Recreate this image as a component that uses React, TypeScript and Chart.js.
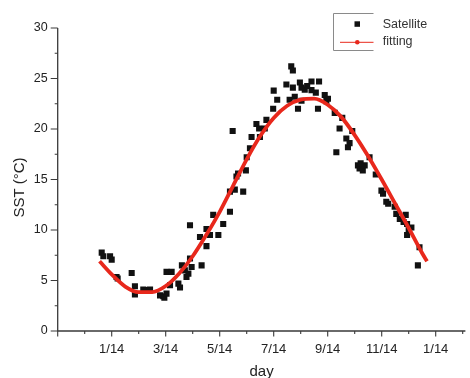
import React, { useEffect, useRef } from "react";
import { Chart, registerables } from "chart.js";

Chart.register(...registerables);

// x unit: months after 1/14 (0 = 1/14)
const xTickValues = [0, 2, 4, 6, 8, 10, 12];
const xTickLabels = ["1/14", "3/14", "5/14", "7/14", "9/14", "11/14", "1/14"];
const yTickValues = [0, 5, 10, 15, 20, 25, 30];

const satX = [-0.37, -0.31, -0.06, 0.0, 0.18, 0.22, 0.74, 0.86, 0.86, 1.17, 1.3, 1.42, 1.79, 1.91, 1.95, 2.03, 2.03, 2.22, 2.16, 2.47, 2.53, 2.6, 2.71, 2.77, 2.84, 2.9, 2.9, 2.96, 3.33, 3.27, 3.51, 3.51, 3.64, 3.76, 3.95, 4.13, 4.38, 4.38, 4.48, 4.56, 4.62, 4.68, 4.87, 4.97, 5.0, 5.12, 5.18, 5.36, 5.46, 5.49, 5.67, 5.73, 5.98, 6.0, 6.13, 6.47, 6.59, 6.65, 6.71, 6.71, 6.78, 6.9, 6.97, 7.03, 7.03, 7.15, 7.24, 7.4, 7.4, 7.56, 7.64, 7.68, 7.89, 7.95, 8.01, 8.26, 8.32, 8.44, 8.54, 8.69, 8.75, 8.81, 8.91, 9.12, 9.18, 9.22, 9.3, 9.37, 9.55, 9.78, 9.99, 10.05, 10.17, 10.24, 10.48, 10.54, 10.67, 10.81, 10.89, 10.94, 11.0, 11.1, 10.94, 11.4, 11.34];
const satY = [7.76, 7.4, 7.4, 7.07, 5.35, 5.2, 5.75, 4.43, 3.63, 4.1, 4.05, 4.1, 3.53, 3.44, 3.3, 3.7, 5.85, 5.85, 4.53, 4.69, 4.3, 6.5, 6.0, 5.35, 5.68, 10.47, 7.17, 6.34, 6.5, 9.3, 8.4, 10.1, 9.5, 11.5, 9.5, 10.6, 11.8, 13.8, 19.8, 14.0, 15.3, 15.6, 13.8, 15.9, 17.2, 18.1, 19.2, 20.5, 20.05, 19.2, 20.05, 20.9, 22.0, 23.8, 22.9, 24.4, 22.9, 26.2, 25.8, 24.1, 23.2, 22.0, 24.6, 24.1, 22.8, 23.9, 24.25, 24.7, 23.85, 23.6, 22.0, 24.7, 23.36, 22.76, 23.0, 21.6, 17.7, 20.05, 21.1, 19.06, 18.2, 18.6, 19.8, 16.4, 16.1, 16.6, 15.9, 16.4, 17.2, 15.5, 13.9, 13.6, 12.8, 12.6, 12.3, 11.6, 11.1, 10.8, 11.5, 10.6, 10.0, 10.24, 9.5, 8.3, 6.5];

const fitX = [-0.45, 0, 0.5, 1, 1.5, 2, 2.5, 3, 3.5, 4, 4.5, 5, 5.5, 6, 6.5, 7, 7.5, 8, 8.5, 9, 9.5, 10, 10.5, 11, 11.5, 11.68];
const fitY = [6.9, 5.6, 4.4, 3.85, 3.85, 4.45, 5.7, 7.4, 9.5, 11.8, 14.4, 17.0, 19.3, 21.1, 22.3, 22.9, 23.0, 22.4, 21.2, 19.4, 17.3, 15.0, 12.6, 10.2, 7.7, 6.9];

const AXIS = "#3a3a3a";
const TEXT = "#222";
const RED = "rgb(232,40,28)";
const FONT = "'Liberation Sans', Arial, 'Noto Sans CJK SC', sans-serif";

const decoPlugin = {
  id: "deco",
  afterDraw(chart: any) {
    const ctx = chart.ctx;
    const { left, right, top, bottom } = chart.chartArea;
    const xs = chart.scales.x;
    const ys = chart.scales.y;
    ctx.save();
    ctx.strokeStyle = AXIS;
    ctx.lineWidth = 1.3;
    // axes lines
    ctx.beginPath();
    ctx.moveTo(left, top);
    ctx.lineTo(left, bottom);
    ctx.moveTo(left, bottom);
    ctx.lineTo(right, bottom);
    ctx.stroke();
    // x ticks
    ctx.lineWidth = 1.1;
    ctx.beginPath();
    for (let v = -2; v <= 13; v++) {
      const px = xs.getPixelForValue(v);
      const len = v % 2 === 0 ? 5.5 : 3;
      ctx.moveTo(px, bottom);
      ctx.lineTo(px, bottom + len);
    }
    // y ticks
    for (let v = 0; v <= 30; v += 2.5) {
      const py = ys.getPixelForValue(v);
      const len = v % 5 === 0 ? 7 : 3;
      ctx.moveTo(left, py);
      ctx.lineTo(left - len, py);
    }
    ctx.stroke();

    // y title
    ctx.fillStyle = TEXT;
    ctx.font = "15px " + FONT;
    ctx.textAlign = "center";
    ctx.textBaseline = "middle";
    ctx.translate(20, (top + bottom) / 2 + 8);
    ctx.rotate(-Math.PI / 2);
    ctx.fillText("SST (°C)", 0, 0);
    ctx.restore();

    // legend
    ctx.save();
    ctx.strokeStyle = "#8a8a8a";
    ctx.lineWidth = 1;
    ctx.beginPath();
    ctx.moveTo(373.5, 13.5);
    ctx.lineTo(333.5, 13.5);
    ctx.lineTo(333.5, 50.5);
    ctx.lineTo(373.5, 50.5);
    ctx.stroke();
    ctx.fillStyle = "#111";
    ctx.fillRect(354.5, 21.3, 5.5, 5.5);
    ctx.strokeStyle = RED;
    ctx.lineWidth = 1;
    ctx.beginPath();
    ctx.moveTo(340, 42.3);
    ctx.lineTo(373.5, 42.3);
    ctx.stroke();
    ctx.fillStyle = RED;
    ctx.beginPath();
    ctx.arc(357.3, 42.3, 2.3, 0, Math.PI * 2);
    ctx.fill();
    ctx.fillStyle = "#333";
    ctx.font = "12.5px " + FONT;
    ctx.textAlign = "left";
    ctx.textBaseline = "middle";
    ctx.fillText("Satellite", 382.7, 24.3);
    ctx.fillText("fitting", 382.7, 41.8);
    ctx.restore();
  },
};

export default function App() {
  const ref = useRef<HTMLCanvasElement | null>(null);
  useEffect(() => {
    if (!ref.current) return;
    const satData = satX.map((x, i) => ({ x, y: satY[i] }));
    const fitData = fitX.map((x, i) => ({ x, y: fitY[i] }));
    const chart = new Chart(ref.current, {
      type: "scatter",
      data: {
        datasets: [
          {
            label: "fitting",
            data: fitData,
            showLine: true,
            borderColor: RED,
            backgroundColor: RED,
            borderWidth: 3.8,
            pointRadius: 0,
            tension: 0.4,
            cubicInterpolationMode: "monotone",
          } as any,
          {
            label: "Satellite",
            data: satData,
            pointStyle: "rect",
            pointRadius: 4.3,
            pointBorderWidth: 0,
            backgroundColor: "#111",
            borderColor: "#111",
            showLine: false,
          } as any,
        ],
      },
      options: {
        animation: false,
        responsive: true,
        maintainAspectRatio: false,
        layout: { padding: { left: 0, top: 28, right: 4.6, bottom: 0 } },
        plugins: {
          legend: { display: false },
          tooltip: { enabled: false },
        },
        scales: {
          x: {
            type: "linear",
            min: -2,
            max: 13.1,
            grid: { display: false, drawTicks: false },
            border: { display: false },
            afterBuildTicks: (scale: any) => {
              scale.ticks = xTickValues.map((v) => ({ value: v }));
            },
            afterFit: (scale: any) => {
              scale.height = 47;
            },
            ticks: {
              autoSkip: false,
              maxRotation: 0,
              padding: 11,
              color: TEXT,
              font: { family: FONT, size: 13 },
              callback: (v: any) => {
                const i = xTickValues.indexOf(Number(v));
                return i >= 0 ? xTickLabels[i] : "";
              },
            },
            title: {
              display: true,
              text: "day",
              color: TEXT,
              font: { family: FONT, size: 15, lineHeight: 1 },
              padding: { top: 0, bottom: -1 },
            },
          },
          y: {
            type: "linear",
            min: 0,
            max: 30,
            grid: { display: false, drawTicks: false },
            border: { display: false },
            afterBuildTicks: (scale: any) => {
              scale.ticks = yTickValues.map((v) => ({ value: v }));
            },
            afterFit: (scale: any) => {
              scale.width = 57.7;
            },
            ticks: {
              padding: 10,
              color: TEXT,
              font: { family: FONT, size: 12.5 },
            },
          },
        },
      },
      plugins: [decoPlugin],
    });
    return () => chart.destroy();
  }, []);
  return (
    <div style={{ position: "fixed", left: 0, top: 0, width: 470, height: 378, background: "#fff" }}>
      <canvas ref={ref} />
    </div>
  );
}
